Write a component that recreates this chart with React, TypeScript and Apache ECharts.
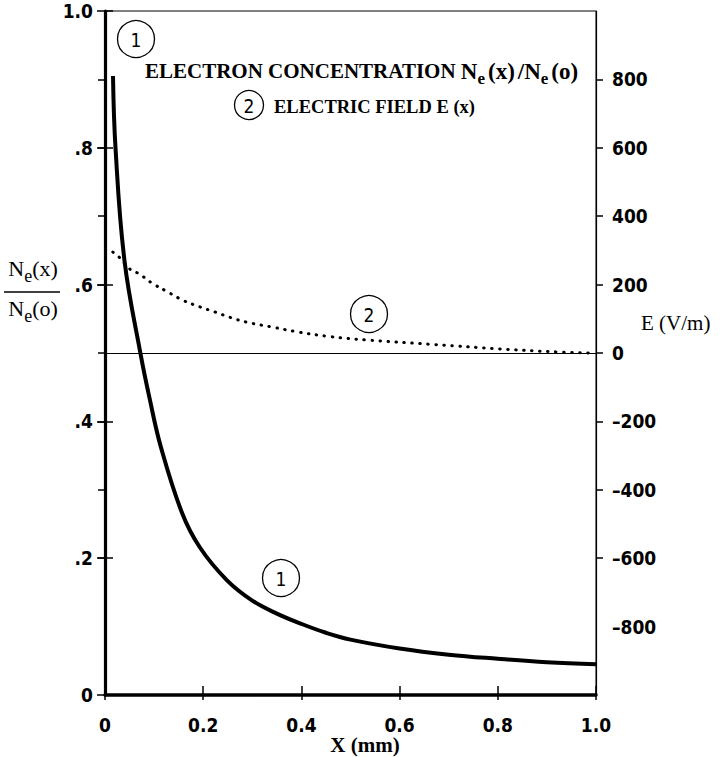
import React, { useEffect, useRef } from "react";
import * as echarts from "echarts";

// Curve 1: electron concentration Ne(x)/Ne(o)
const neX = [0.0163, 0.0214, 0.0397, 0.0723, 0.0916, 0.114, 0.157, 0.193, 0.248, 0.3, 0.35, 0.4, 0.45, 0.5, 0.6, 0.7, 0.8, 0.9, 1.0];
const neY = [0.905, 0.8, 0.635, 0.499, 0.431, 0.362, 0.266, 0.216, 0.168, 0.138, 0.119, 0.104, 0.091, 0.081, 0.068, 0.059, 0.053, 0.048, 0.045];

// Curve 2: electric field E(x) in V/m
const eX = [0.016, 0.029, 0.051, 0.069, 0.096, 0.126, 0.159, 0.193, 0.224, 0.255, 0.289, 0.34, 0.391, 0.458, 0.534, 0.668, 0.804, 0.906, 0.988];
const eY = [295, 280, 245, 232, 204, 180, 154, 135, 120, 104, 90, 76, 62, 48, 38, 25, 12, 4, 0];

const xTickLabels = ["0", "0.2", "0.4", "0.6", "0.8", "1.0"];
const neTickLabels = ["0", ".2", ".4", ".6", ".8", "1.0"];
const eLabelValues = [-800, -600, -400, -200, 0, 200, 400, 600, 800];
const eTickValues = [-600, -400, -200, 0, 200, 400, 600, 800];

const NUM_FONT = '"Liberation Sans Narrow", "DejaVu Sans Condensed", "Arial Narrow", sans-serif';
const SERIF = '"Liberation Serif", "DejaVu Serif", serif';

function circled(label: string, cx: number, cy: number, r: number) {
  return {
    type: "group",
    children: [
      { type: "circle", shape: { cx, cy, r }, style: { fill: "#fff", stroke: "#000", lineWidth: 1.3 } },
      {
        type: "text",
        x: cx,
        y: cy + 1,
        style: { text: label, fontFamily: NUM_FONT, fontSize: 19, fill: "#000", align: "center", verticalAlign: "middle" },
      },
    ],
  };
}

export default function App() {
  const ref = useRef<HTMLDivElement>(null);
  useEffect(() => {
    document.body.style.margin = "0";
    const chart = echarts.init(ref.current!, null, { renderer: "svg" });
    const numLabel = { color: "#000", fontFamily: NUM_FONT, fontWeight: "bold" as const, fontSize: 19 };
    const option: any = {
      animation: false,
      backgroundColor: "#fff",
      grid: { left: 105, right: 124, top: 11, bottom: 62, show: true, borderColor: "#000", borderWidth: 1 },
      xAxis: [
        {
          type: "value", min: 0, max: 1, interval: 0.2, position: "bottom",
          axisLine: { show: true, onZero: false, lineStyle: { color: "#000", width: 3.5 } },
          axisTick: { show: true, length: 5, lineStyle: { color: "#000", width: 1.5 } },
          axisLabel: { ...numLabel, margin: 20, formatter: (v: number) => xTickLabels[Math.round(v / 0.2)] },
          splitLine: { show: false },
        },
        {
          type: "value", min: 0, max: 1, interval: 0.2, position: "bottom",
          axisLine: { show: false },
          axisTick: { show: true, inside: true, length: 9, lineStyle: { color: "#000", width: 1.5 } },
          axisLabel: { show: false },
          splitLine: { show: false },
        },
      ],
      yAxis: [
        {
          type: "value", min: 0, max: 1, interval: 0.2, position: "left",
          axisLine: { show: true, onZero: false, lineStyle: { color: "#000", width: 3.2 } },
          axisTick: { show: true, length: 8, lineStyle: { color: "#000", width: 1.5 } },
          axisLabel: { ...numLabel, margin: 12, formatter: (v: number) => neTickLabels[Math.round(v / 0.2)] },
          splitLine: { show: false },
        },
        {
          type: "value", min: 0, max: 1, interval: 0.2, position: "left",
          axisLine: { show: false },
          axisTick: { show: true, inside: true, length: 8, lineStyle: { color: "#000", width: 1.5 } },
          axisLabel: { show: false },
          splitLine: { show: false },
        },
        {
          type: "value", min: -1000, max: 1000, interval: 200, position: "right",
          axisLine: { show: true, onZero: false, lineStyle: { color: "#000", width: 1.2 } },
          axisTick: { show: true, length: 7, customValues: eTickValues, lineStyle: { color: "#000", width: 1.5 } },
          axisLabel: {
            ...numLabel, margin: 16, customValues: eLabelValues,
            formatter: (v: number) => (Math.abs(v) >= 1000 ? "" : v < 0 ? "\u2013" + Math.abs(v) : String(v)),
          },
          splitLine: { show: false },
        },
        {
          type: "value", min: -1000, max: 1000, interval: 200, position: "right",
          axisLine: { show: false },
          axisTick: { show: true, inside: true, length: 7, customValues: eTickValues, lineStyle: { color: "#000", width: 1.5 } },
          axisLabel: { show: false },
          splitLine: { show: false },
        },
      ],
      series: [
        {
          type: "line", xAxisIndex: 0, yAxisIndex: 0,
          data: neX.map((x, i) => [x, neY[i]]),
          smooth: 0.4, showSymbol: false, symbol: "none",
          lineStyle: { color: "#000", width: 4 },
        },
        {
          type: "line", xAxisIndex: 0, yAxisIndex: 2,
          data: eX.map((x, i) => [x, eY[i]]),
          smooth: 0.4, showSymbol: false, symbol: "none",
          lineStyle: { color: "#000", width: 3, type: [0.5, 7.5], cap: "round" },
          markLine: {
            silent: true, symbol: ["none", "none"], label: { show: false },
            lineStyle: { color: "#000", width: 1.2, type: "solid" },
            data: [{ yAxis: 0 }],
          },
        },
      ],
      graphic: [
        {
          type: "text", x: 145, y: 71,
          style: {
            text: "{b|ELECTRON CONCENTRATION }{n|N}{s|e}{p|(x)}{n|/}{n|N}{s|e}{p|(o)}",
            verticalAlign: "middle",
            rich: {
              b: { fontFamily: SERIF, fontWeight: "bold", fontSize: 21, fill: "#000" },
              n: { fontFamily: SERIF, fontWeight: "bold", fontSize: 23, fill: "#000" },
              p: { fontFamily: SERIF, fontWeight: "bold", fontSize: 23, fill: "#000", padding: [0, 3, 0, 3] },
              s: { fontFamily: SERIF, fontWeight: "bold", fontSize: 17, fill: "#000", padding: [15, 0, 0, 0] },
            },
          },
        },
        circled("2", 249, 105, 14.5),
        {
          type: "text", x: 274, y: 107,
          style: { text: "ELECTRIC FIELD E (x)", fontFamily: SERIF, fontWeight: "bold", fontSize: 18.5, fill: "#000", verticalAlign: "middle" },
        },
        circled("1", 136, 39, 18.5),
        circled("2", 369, 314, 18.5),
        circled("1", 281, 578, 18.5),
        {
          type: "text", x: 33, y: 268,
          style: {
            text: "{n|N}{s|e}{n|(x)}", align: "center", verticalAlign: "middle",
            rich: {
              n: { fontFamily: SERIF, fontSize: 22, fill: "#000" },
              s: { fontFamily: SERIF, fontSize: 18, fill: "#000", padding: [16, 0, 0, 0] },
            },
          },
        },
        { type: "line", shape: { x1: 4, y1: 292, x2: 60, y2: 292 }, style: { stroke: "#000", lineWidth: 1.5 } },
        {
          type: "text", x: 33, y: 308,
          style: {
            text: "{n|N}{s|e}{n|(o)}", align: "center", verticalAlign: "middle",
            rich: {
              n: { fontFamily: SERIF, fontSize: 22, fill: "#000" },
              s: { fontFamily: SERIF, fontSize: 18, fill: "#000", padding: [16, 0, 0, 0] },
            },
          },
        },
        {
          type: "text", x: 641, y: 323,
          style: { text: "E (V/m)", fontFamily: SERIF, fontSize: 21, fill: "#000", verticalAlign: "middle" },
        },
        {
          type: "text", x: 365, y: 745,
          style: { text: "X (mm)", fontFamily: SERIF, fontWeight: "bold", fontSize: 21, fill: "#000", align: "center", verticalAlign: "middle" },
        },
      ],
    };
    chart.setOption(option);
    return () => chart.dispose();
  }, []);
  return <div ref={ref} style={{ width: 720, height: 757 }} />;
}
